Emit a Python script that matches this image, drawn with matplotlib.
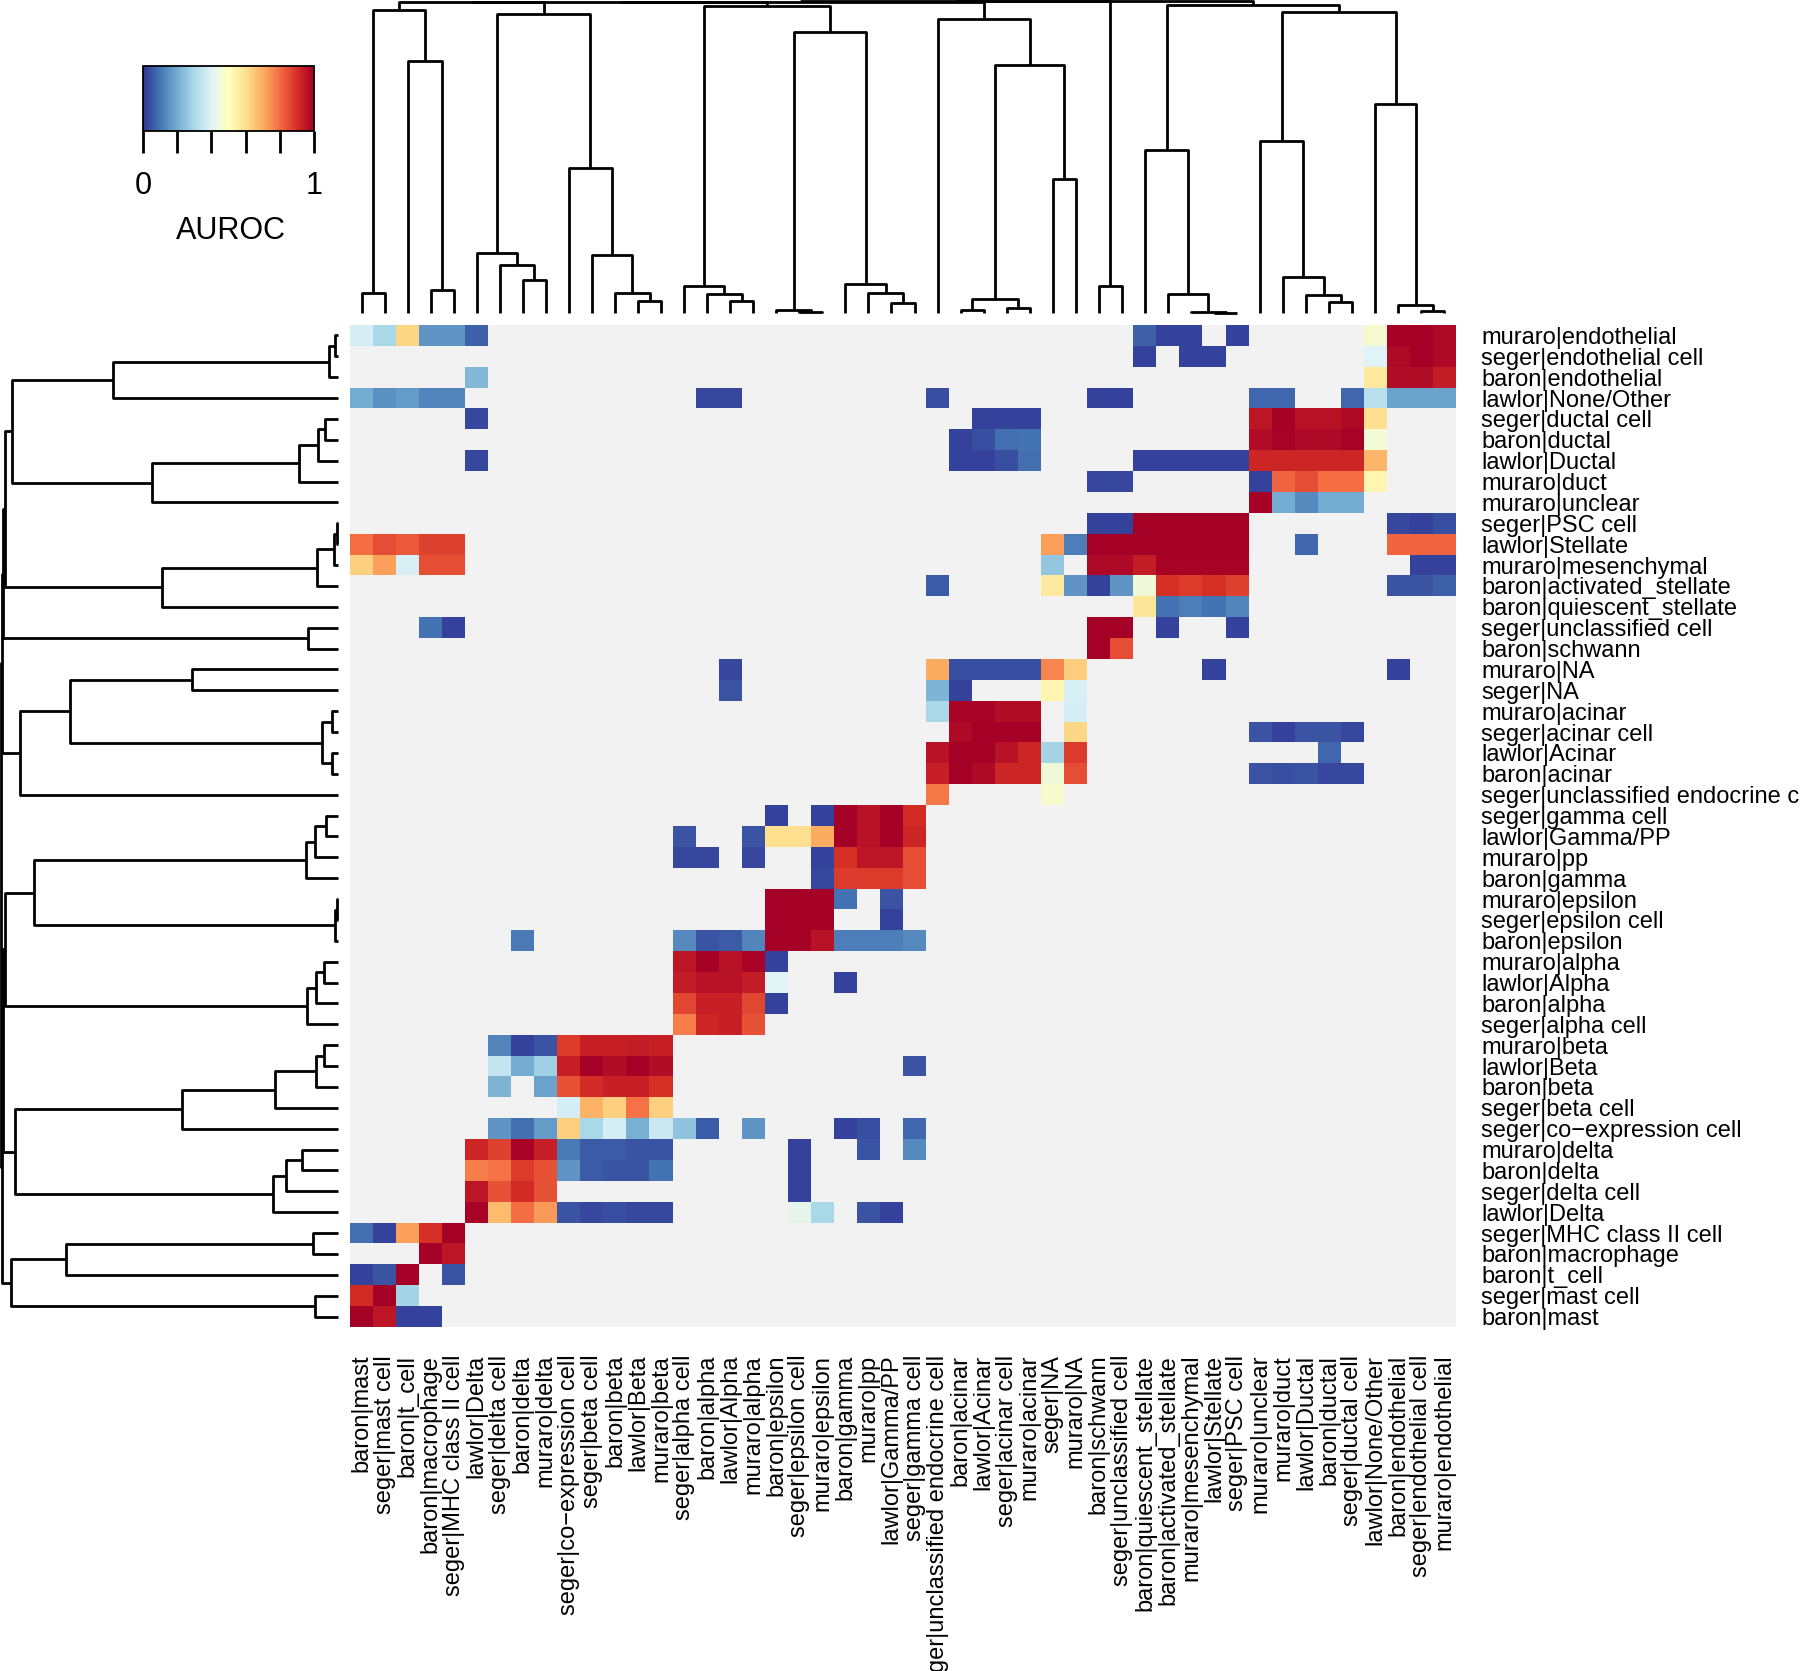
import numpy as np
import matplotlib
matplotlib.use("Agg")
import matplotlib.pyplot as plt

plt.rcParams['font.family'] = ['Liberation Sans', 'DejaVu Sans']

# row labels, top to bottom (columns are the same cell types in reverse order)
row_labels = [
    "muraro|endothelial", "seger|endothelial cell", "baron|endothelial", "lawlor|None/Other",
    "seger|ductal cell", "baron|ductal", "lawlor|Ductal", "muraro|duct", "muraro|unclear",
    "seger|PSC cell", "lawlor|Stellate", "muraro|mesenchymal", "baron|activated_stellate",
    "baron|quiescent_stellate", "seger|unclassified cell", "baron|schwann", "muraro|NA",
    "seger|NA", "muraro|acinar", "seger|acinar cell", "lawlor|Acinar", "baron|acinar",
    "seger|unclassified endocrine cell", "seger|gamma cell", "lawlor|Gamma/PP", "muraro|pp",
    "baron|gamma", "muraro|epsilon", "seger|epsilon cell", "baron|epsilon", "muraro|alpha",
    "lawlor|Alpha", "baron|alpha", "seger|alpha cell", "muraro|beta", "lawlor|Beta",
    "baron|beta", "seger|beta cell", "seger|co\u2212expression cell", "muraro|delta",
    "baron|delta", "seger|delta cell", "lawlor|Delta", "seger|MHC class II cell",
    "baron|macrophage", "baron|t_cell", "seger|mast cell", "baron|mast",
]
col_labels = row_labels[::-1]

# AUROC cells that are present, one list per row: (column index, value)
auroc_cells = [
    [(0, .38), (1, .30), (2, .62), (3, .16), (4, .16), (5, .07), (34, .07), (35, .02), (36, .02), (38, .02), (44, .47), (45, 1.0), (46, 1.0), (47, .98)],
    [(34, .02), (36, .02), (37, .02), (44, .40), (45, .98), (46, 1.0), (47, .98)],
    [(5, .23), (44, .57), (45, .97), (46, .97), (47, .94)],
    [(0, .20), (1, .15), (2, .17), (3, .13), (4, .13), (15, .03), (16, .03), (25, .04), (32, .02), (33, .02), (39, .08), (40, .08), (43, .08), (44, .33), (45, .18), (46, .18), (47, .18)],
    [(5, .03), (27, .02), (28, .02), (29, .02), (39, .95), (40, 1.0), (41, .96), (42, .96), (43, .98), (44, .60)],
    [(26, .02), (27, .04), (28, .09), (29, .10), (39, .97), (40, .99), (41, .98), (42, .98), (43, .99), (44, .46)],
    [(5, .03), (26, .02), (27, .02), (28, .04), (29, .09), (34, .02), (35, .02), (36, .02), (37, .02), (38, .02), (39, .92), (40, .92), (41, .92), (42, .92), (43, .92), (44, .68)],
    [(32, .03), (33, .03), (39, .02), (40, .81), (41, .85), (42, .80), (43, .80), (44, .53)],
    [(39, 1.0), (40, .20), (41, .14), (42, .20), (43, .20)],
    [(32, .02), (33, .02), (34, 1.0), (35, 1.0), (36, 1.0), (37, 1.0), (38, 1.0), (45, .03), (46, .02), (47, .04)],
    [(0, .80), (1, .85), (2, .83), (3, .87), (4, .87), (30, .72), (31, .12), (32, 1.0), (33, 1.0), (34, 1.0), (35, 1.0), (36, 1.0), (37, 1.0), (38, 1.0), (41, .08), (45, .81), (46, .81), (47, .81)],
    [(0, .63), (1, .72), (2, .39), (3, .85), (4, .85), (30, .26), (32, .98), (33, .98), (34, .94), (35, .99), (36, .99), (37, .99), (38, .99), (46, .02), (47, .02)],
    [(25, .06), (30, .57), (31, .16), (32, .02), (33, .16), (34, .45), (35, .90), (36, .88), (37, .90), (38, .87), (45, .05), (46, .05), (47, .07)],
    [(34, .58), (35, .10), (36, .12), (37, .10), (38, .13)],
    [(3, .10), (4, .02), (32, 1.0), (33, 1.0), (35, .02), (38, .02)],
    [(32, 1.0), (33, .85)],
    [(16, .03), (25, .70), (26, .04), (27, .04), (28, .04), (29, .04), (30, .76), (31, .64), (37, .02), (45, .02)],
    [(16, .05), (25, .22), (26, .02), (30, .53), (31, .39)],
    [(25, .30), (26, .99), (27, .99), (28, .97), (29, .97), (31, .38)],
    [(26, .98), (27, 1.0), (28, 1.0), (29, 1.0), (31, .62), (39, .05), (40, .02), (41, .05), (42, .05), (43, .03)],
    [(25, .96), (26, 1.0), (27, 1.0), (28, .96), (29, .92), (30, .29), (31, .88), (42, .08)],
    [(25, .93), (26, 1.0), (27, .98), (28, .92), (29, .92), (30, .45), (31, .85), (39, .05), (40, .04), (41, .05), (42, .03), (43, .03)],
    [(25, .78), (30, .47)],
    [(18, .02), (20, .02), (21, 1.0), (22, .96), (23, 1.0), (24, .91)],
    [(14, .05), (17, .05), (18, .60), (19, .60), (20, .70), (21, 1.0), (22, .96), (23, 1.0), (24, .92)],
    [(14, .03), (15, .03), (17, .03), (20, .02), (21, .90), (22, .95), (23, .95), (24, .85)],
    [(20, .03), (21, .88), (22, .88), (23, .88), (24, .85)],
    [(18, 1.0), (19, 1.0), (20, 1.0), (21, .10), (23, .05)],
    [(18, 1.0), (19, 1.0), (20, 1.0), (23, .02)],
    [(7, .11), (14, .14), (15, .05), (16, .06), (17, .13), (18, 1.0), (19, 1.0), (20, .96), (21, .12), (22, .12), (23, .12), (24, .14)],
    [(14, .95), (15, 1.0), (16, .96), (17, .99), (18, .02)],
    [(14, .94), (15, .96), (16, .96), (17, .94), (18, .40), (21, .02)],
    [(14, .86), (15, .93), (16, .93), (17, .86), (18, .02)],
    [(14, .77), (15, .92), (16, .93), (17, .84)],
    [(6, .13), (7, .02), (8, .05), (9, .88), (10, .93), (11, .93), (12, .94), (13, .93)],
    [(6, .35), (7, .20), (8, .28), (9, .93), (10, 1.0), (11, .97), (12, 1.0), (13, .97), (24, .05)],
    [(6, .22), (8, .18), (9, .84), (10, .91), (11, .93), (12, .93), (13, .90)],
    [(9, .38), (10, .69), (11, .63), (12, .79), (13, .63)],
    [(6, .16), (7, .09), (8, .17), (9, .63), (10, .30), (11, .38), (12, .21), (13, .36), (14, .25), (15, .06), (17, .16), (21, .02), (22, .04), (24, .08)],
    [(5, .92), (6, .87), (7, .99), (8, .93), (9, .11), (10, .06), (11, .06), (12, .05), (13, .05), (19, .02), (22, .05), (24, .14)],
    [(5, .77), (6, .79), (7, .88), (8, .84), (9, .16), (10, .06), (11, .05), (12, .05), (13, .10), (19, .02)],
    [(5, .95), (6, .84), (7, .91), (8, .84), (19, .02)],
    [(5, .99), (6, .67), (7, .80), (8, .73), (9, .05), (10, .03), (11, .04), (12, .03), (13, .03), (19, .42), (20, .30), (22, .05), (23, .02)],
    [(0, .09), (1, .02), (2, .72), (3, .90), (4, 1.0)],
    [(3, 1.0), (4, .95)],
    [(0, .02), (1, .05), (2, 1.0), (4, .05)],
    [(0, .91), (1, 1.0), (2, .29)],
    [(0, 1.0), (1, .95), (2, .02), (3, .02)],
]

# dendrogram merges (a, b, height); ids >= 48 point to earlier merges (48 + list index)
col_merges = [
    (0, 1, 20), (3, 4, 23), (2, 49, 252), (48, 50, 303),
    (7, 8, 33), (6, 52, 48), (5, 53, 60), (12, 13, 12), (11, 55, 20), (10, 56, 58),
    (9, 57, 145), (54, 58, 299), (51, 59, 311.3),
    (16, 17, 12), (15, 61, 19), (14, 62, 27), (19, 20, 1), (18, 64, 2.7),
    (23, 24, 10), (22, 66, 20), (21, 67, 29), (65, 68, 281), (63, 69, 307.3),
    (60, 70, 311.4),
    (26, 27, 3), (28, 29, 5), (72, 73, 14), (30, 31, 134), (74, 75, 248), (25, 76, 294),
    (71, 77, 311.5), (32, 33, 27), (78, 79, 311.6),
    (37, 38, 0.5), (36, 81, 1.5), (35, 82, 19), (34, 83, 163),
    (42, 43, 11), (41, 85, 18), (40, 86, 36), (39, 87, 172),
    (46, 47, 2), (45, 89, 8), (44, 90, 209), (88, 91, 301), (84, 92, 308),
    (80, 93, 311.7),
]
row_merges = [
    (0, 1, 3), (48, 2, 9), (49, 3, 225),
    (4, 5, 13), (51, 6, 20), (52, 7, 39), (53, 8, 186), (50, 54, 326),
    (9, 10, 1), (56, 11, 4), (57, 12, 21), (58, 13, 176), (55, 59, 333),
    (14, 15, 30), (60, 61, 335),
    (16, 17, 146), (18, 19, 6), (20, 21, 6), (64, 65, 16), (63, 66, 268), (67, 22, 318),
    (62, 68, 336),
    (23, 24, 12), (70, 25, 23), (71, 26, 32), (27, 28, 1), (73, 29, 3.5), (72, 74, 304),
    (30, 31, 14), (76, 32, 22), (77, 33, 31), (75, 78, 333),
    (34, 35, 14), (80, 36, 22), (81, 37, 63), (82, 38, 156),
    (39, 40, 36), (84, 41, 52), (85, 42, 65), (83, 86, 323), (79, 87, 335.5),
    (43, 44, 25), (89, 45, 272), (46, 47, 23), (90, 91, 327), (88, 92, 336.5),
    (69, 93, 337.5),
]

n = len(row_labels)
auroc = np.full((n, n), np.nan)
for r, cells in enumerate(auroc_cells):
    for c, v in cells:
        auroc[r, c] = v

W, H = 1800, 1671
fig = plt.figure(figsize=(W / 100, H / 100), dpi=100)


def rect(x0, y0, x1, y1):
    return [x0 / W, 1 - y1 / H, (x1 - x0) / W, (y1 - y0) / H]


def draw_dendro(ax, merges, n_leaves, side):
    pos = {i: i + 0.5 for i in range(n_leaves)}
    hgt = {i: 0.0 for i in range(n_leaves)}
    for k, (a, b, h) in enumerate(merges):
        xs = [pos[a], pos[a], pos[b], pos[b]]
        ys = [hgt[a], h, h, hgt[b]]
        if side == 'left':
            xs, ys = ys, xs
        ax.plot(xs, ys, color='black', lw=2.0, clip_on=False, solid_capstyle='butt')
        pos[n_leaves + k] = (pos[a] + pos[b]) / 2
        hgt[n_leaves + k] = h


cmap = plt.get_cmap('RdYlBu_r').copy()
cmap.set_bad('#f2f2f2')

# heatmap
ax = fig.add_axes(rect(350, 325, 1456, 1327))
im = ax.imshow(auroc, cmap=cmap, vmin=0, vmax=1, aspect='auto', interpolation='nearest')
ax.set_xticks(range(n))
ax.set_xticklabels(col_labels, rotation=90, fontsize=17)
ax.yaxis.tick_right()
ax.set_yticks(range(n))
ax.set_yticklabels(row_labels, fontsize=17)
ax.tick_params(axis='x', length=0, pad=20)
ax.tick_params(axis='y', length=0, pad=18)
for s in ax.spines.values():
    s.set_visible(False)

# column dendrogram
ax_top = fig.add_axes(rect(350, 0, 1456, 313))
draw_dendro(ax_top, col_merges, n, 'top')
ax_top.set_xlim(0, n)
ax_top.set_ylim(0, 313)
ax_top.axis('off')

# row dendrogram
ax_left = fig.add_axes(rect(0, 325, 338, 1327))
draw_dendro(ax_left, row_merges, n, 'left')
ax_left.set_xlim(338, 0)
ax_left.set_ylim(n, 0)
ax_left.axis('off')

# colour key
cax = fig.add_axes(rect(143, 66, 314, 130.5))
cb = fig.colorbar(im, cax=cax, orientation='horizontal')
cb.set_ticks([0, 0.2, 0.4, 0.6, 0.8, 1.0])
cb.set_ticklabels(['0', '', '', '', '', '1'])
cax.tick_params(axis='x', length=15.5, width=2, pad=14, labelsize=22)
cb.outline.set_linewidth(1.3)
fig.text(231 / W, 1 - 231 / H, 'AUROC', fontsize=22, ha='center', va='center')

fig.savefig('out.png', dpi=100, facecolor='white')
